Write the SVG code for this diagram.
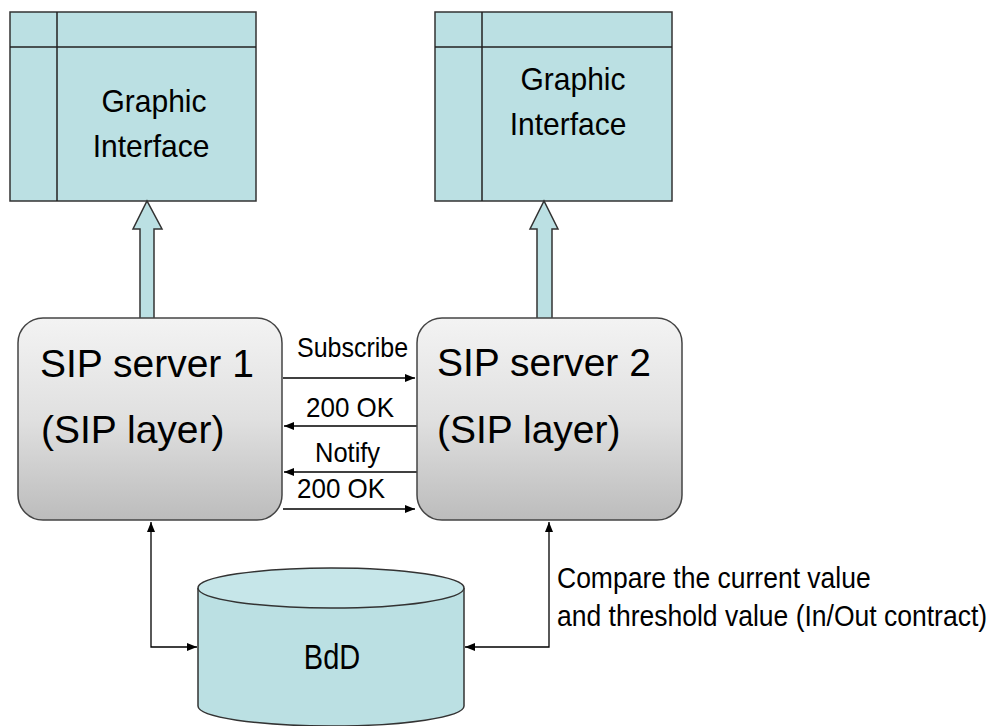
<svg xmlns="http://www.w3.org/2000/svg" width="994" height="726" viewBox="0 0 994 726">
<defs>
<linearGradient id="gray" x1="0" y1="0" x2="0" y2="1">
<stop offset="0" stop-color="#f3f3f3"/>
<stop offset="0.5" stop-color="#e0e0e0"/>
<stop offset="1" stop-color="#bcbcbc"/>
</linearGradient>
<marker id="ah" viewBox="0 0 10 10" refX="10" refY="5" markerWidth="10" markerHeight="10" markerUnits="userSpaceOnUse" orient="auto-start-reverse">
<path d="M0,1 L10,5 L0,9 Z" fill="#000"/>
</marker>
<style>
.t{font-family:"Liberation Sans",Arial,sans-serif;fill:#000}
.blue{fill:#bbe0e3;stroke:#333;stroke-width:1.5}
.sip{fill:url(#gray);stroke:#444;stroke-width:1.5}
.ln{fill:none;stroke:#000;stroke-width:1.3}
</style>
</defs>
<g id="gi1">
<rect class="blue" x="10" y="12" width="246" height="189"/>
<line x1="57" y1="12" x2="57" y2="201" stroke="#222" stroke-width="1.5"/>
<line x1="10" y1="47" x2="256" y2="47" stroke="#222" stroke-width="1.5"/>
<text class="t" x="154" y="112" font-size="30" text-anchor="middle" transform="translate(154,112) scale(1,1.05) translate(-154,-112)">Graphic</text>
<text class="t" x="151" y="157" font-size="30" text-anchor="middle" transform="translate(151,157) scale(1,1.05) translate(-151,-157)">Interface</text>
</g>
<g id="gi2">
<rect class="blue" x="435" y="12" width="237" height="189"/>
<line x1="482" y1="12" x2="482" y2="201" stroke="#222" stroke-width="1.5"/>
<line x1="435" y1="47" x2="672" y2="47" stroke="#222" stroke-width="1.5"/>
<text class="t" x="573" y="90" font-size="30" text-anchor="middle" transform="translate(573,90) scale(1,1.05) translate(-573,-90)">Graphic</text>
<text class="t" x="568" y="135" font-size="30" text-anchor="middle" transform="translate(568,135) scale(1,1.05) translate(-568,-135)">Interface</text>
</g>
<g id="connectors">
<polygon class="blue" points="140,320 140,229 133,229 147,201 162,229 154,229 154,320"/>
<polygon class="blue" points="537,320 537,229 530,229 544,201 558,229 552,229 552,320"/>
<path class="ln" d="M283,378 H415" marker-end="url(#ah)"/>
<path class="ln" d="M417,426 H284" marker-end="url(#ah)"/>
<path class="ln" d="M417,472 H284" marker-end="url(#ah)"/>
<path class="ln" d="M283,509 H415" marker-end="url(#ah)"/>
<path class="ln" d="M151,522 V647 H197" marker-start="url(#ah)" marker-end="url(#ah)"/>
<path class="ln" d="M549,522 V647 H465" marker-start="url(#ah)" marker-end="url(#ah)"/>
<text class="t" x="297" y="357" font-size="25" transform="translate(297,357) scale(1,1.1) translate(-297,-357)">Subscribe</text>
<text class="t" x="306" y="417" font-size="26" transform="translate(306,417) scale(1,1.08) translate(-306,-417)">200 OK</text>
<text class="t" x="315" y="462" font-size="25.5" transform="translate(315,462) scale(1,1.08) translate(-315,-462)">Notify</text>
<text class="t" x="297" y="498" font-size="26" transform="translate(297,498) scale(1,1.08) translate(-297,-498)">200 OK</text>
<text class="t" x="557" y="588" font-size="26.5" transform="translate(557,588) scale(1,1.08) translate(-557,-588)">Compare the current value</text>
<text class="t" x="557" y="626" font-size="26.5" transform="translate(557,626) scale(1,1.08) translate(-557,-626)">and threshold value (In/Out contract)</text>
</g>
<g id="sip1">
<rect class="sip" x="18" y="318" width="264" height="202" rx="25" ry="25"/>
<text class="t" x="40" y="377" font-size="39">SIP server 1</text>
<text class="t" x="41" y="443" font-size="39">(SIP layer)</text>
</g>
<g id="sip2">
<rect class="sip" x="417" y="318" width="265" height="202" rx="25" ry="25"/>
<text class="t" x="437" y="376" font-size="39">SIP server 2</text>
<text class="t" x="437" y="443" font-size="39">(SIP layer)</text>
</g>
<g id="bdd">
<path class="blue" d="M198,588 V706 A133,20 0 0 0 464,706 V588"/>
<ellipse cx="331" cy="588" rx="133" ry="20" fill="#c6e6e9" stroke="#333" stroke-width="1.5"/>
<text class="t" x="332" y="669" font-size="29" text-anchor="middle" transform="translate(332,669) scale(1,1.22) translate(-332,-669)">BdD</text>
</g>
</svg>
